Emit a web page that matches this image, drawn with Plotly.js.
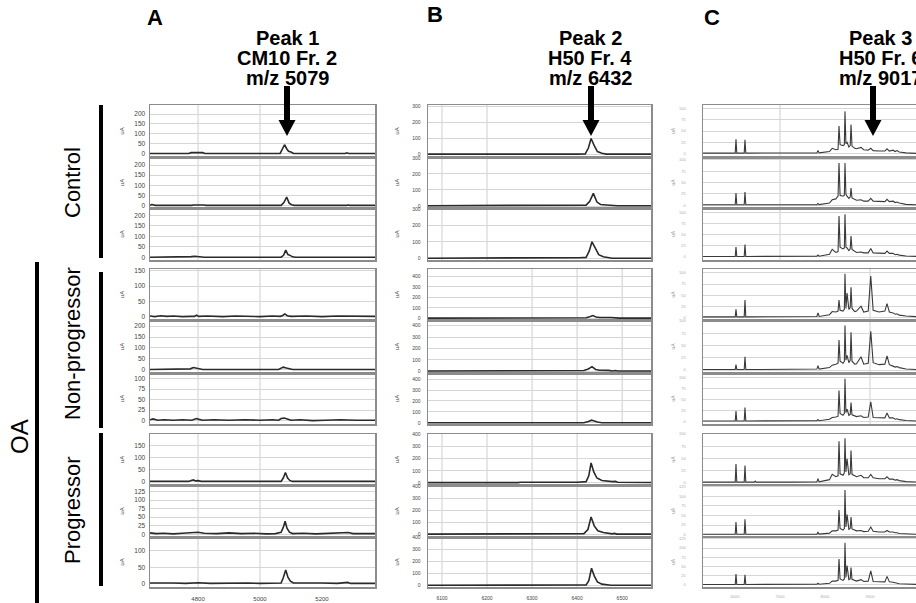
<!DOCTYPE html>
<html><head><meta charset="utf-8">
<script src="https://cdn.plot.ly/plotly-3.0.1.min.js"></script>
<style>html,body{margin:0;padding:0;background:#fff}#chart{width:916px;height:603px}</style>
</head><body><div id="chart"></div>
<script>
// ---------------- DATA ----------------
// Column A: CM10 Fr. 2 spectra (m/z vs uA)
const ctlA1X = [4645, 4770, 4778, 4790, 4805, 4815, 4822, 5065, 5072, 5079, 5086, 5092, 5100, 5108, 5275, 5280, 5286, 5371];
const ctlA1Y = [1, 1, 5, 7, 6, 5, 1, 1, 20, 45, 25, 12, 8, 1, 1, 4, 1, 1];
const ctlA2X = [4645, 4650, 4655, 4662, 4780, 4785, 4820, 4825, 5068, 5077, 5086, 5094, 5102, 5110, 5280, 5285, 5290, 5371];
const ctlA2Y = [1, 5, 4, 1, 1, 3, 3, 1, 1, 15, 42, 12, 4, 1, 1, 3, 1, 1];
const ctlA3X = [4645, 4770, 4778, 4790, 4800, 4812, 4820, 5068, 5076, 5083, 5090, 5097, 5105, 5115, 5270, 5278, 5286, 5371];
const ctlA3Y = [1, 1, 4, 6, 4, 5, 1, 1, 10, 35, 14, 10, 3, 1, 1, 4, 1, 1];
const npA1X = [4645, 4660, 4680, 4700, 4720, 4750, 4775, 4788, 4795, 4802, 4830, 4880, 4920, 4960, 5000, 5040, 5065, 5073, 5080, 5088, 5100, 5150, 5200, 5250, 5300, 5350, 5371];
const npA1Y = [2, 0, 3, 1, 2, 0, 1, 1, 5, 1, 2, 0, 2, 1, 0, 2, 1, 4, 9, 3, 1, 2, 0, 2, 1, 2, 1];
const npA2X = [4645, 4760, 4775, 4785, 4795, 4805, 4815, 5060, 5068, 5075, 5085, 5095, 5105, 5371];
const npA2Y = [1, 1, 4, 10, 8, 6, 1, 1, 6, 12, 8, 3, 1, 1];
const npA3X = [4645, 4655, 4670, 4690, 4720, 4750, 4780, 4788, 4795, 4803, 4815, 4850, 4900, 4950, 5000, 5040, 5060, 5068, 5078, 5088, 5100, 5130, 5170, 5210, 5260, 5310, 5350, 5371];
const npA3Y = [2, 4, 1, 2, 1, 2, 1, 4, 5, 3, 1, 2, 1, 2, 1, 2, 1, 5, 6, 4, 1, 2, 0, 1, 2, 1, 2, 1];
const prA1X = [4645, 4770, 4778, 4785, 4792, 4800, 4810, 5068, 5075, 5082, 5089, 5096, 5104, 5371];
const prA1Y = [1, 1, 5, 7, 3, 4, 1, 1, 15, 38, 15, 5, 1, 1];
const prA2X = [4645, 4665, 4690, 4720, 4750, 4780, 4800, 4820, 4860, 4900, 4940, 4980, 5020, 5050, 5068, 5075, 5081, 5087, 5095, 5105, 5140, 5180, 5220, 5260, 5285, 5300, 5340, 5371];
const prA2Y = [4, 2, 3, 1, 3, 5, 6, 3, 2, 4, 2, 3, 1, 2, 6, 20, 38, 18, 6, 2, 3, 1, 2, 3, 5, 2, 3, 2];
const prA3X = [4645, 4680, 4720, 4760, 4800, 4840, 4880, 4920, 4960, 5000, 5040, 5068, 5075, 5083, 5090, 5098, 5108, 5150, 5200, 5250, 5275, 5283, 5292, 5320, 5371];
const prA3Y = [2, 1, 2, 1, 3, 1, 2, 1, 2, 1, 2, 2, 18, 42, 20, 8, 2, 1, 2, 1, 2, 4, 1, 1, 1];

// Column B: H50 Fr. 4 spectra
const ctlB1X = [6069, 6080, 6090, 6100, 6400, 6418, 6425, 6431, 6438, 6445, 6455, 6465, 6564];
const ctlB1Y = [2, 3, 1, 2, 2, 3, 40, 100, 55, 18, 8, 2, 2];
const ctlB2X = [6069, 6395, 6405, 6420, 6428, 6436, 6444, 6452, 6465, 6480, 6490, 6564];
const ctlB2Y = [2, 2, 5, 6, 30, 79, 25, 10, 7, 6, 2, 2];
const ctlB3X = [6069, 6395, 6405, 6420, 6427, 6433, 6440, 6448, 6458, 6470, 6478, 6564];
const ctlB3Y = [1, 1, 4, 6, 45, 100, 60, 22, 10, 6, 1, 1];
const npB1X = [6069, 6410, 6420, 6428, 6435, 6442, 6450, 6475, 6480, 6490, 6495, 6564];
const npB1Y = [2, 2, 5, 15, 26, 12, 8, 8, 5, 6, 2, 2];
const npB2X = [6069, 6405, 6415, 6425, 6433, 6441, 6450, 6470, 6478, 6485, 6490, 6564];
const npB2Y = [2, 2, 6, 20, 40, 15, 8, 7, 2, 6, 2, 2];
const npB3X = [6069, 6415, 6425, 6432, 6438, 6445, 6455, 6564];
const npB3Y = [1, 1, 12, 25, 18, 8, 2, 1];
const prB1X = [6069, 6080, 6085, 6200, 6205, 6210, 6268, 6275, 6400, 6410, 6420, 6426, 6431, 6437, 6444, 6455, 6470, 6478, 6485, 6490, 6564];
const prB1Y = [2, 4, 2, 2, 4, 2, 2, 5, 5, 8, 10, 60, 165, 90, 40, 20, 12, 10, 12, 5, 3];
const prB2X = [6069, 6405, 6415, 6424, 6431, 6438, 6446, 6458, 6470, 6478, 6483, 6488, 6564];
const prB2Y = [2, 2, 6, 40, 144, 70, 30, 15, 8, 4, 8, 2, 2];
const prB3X = [6069, 6270, 6275, 6420, 6426, 6432, 6438, 6445, 6455, 6468, 6475, 6564];
const prB3Y = [2, 2, 5, 5, 40, 145, 80, 30, 12, 5, 2, 2];

// Column C: H50 Fr. 6 spectra (shared m/z sampling points)
const cX = [5290, 5700, 6005, 6022, 6040, 6205, 6222, 6240, 6430, 6450, 6470, 7240, 7260, 7280, 7820, 7844, 7870, 8100, 8160, 8240, 8290, 8311, 8335, 8400, 8430, 8444, 8465, 8490, 8530, 8560, 8578, 8600, 8660, 8700, 8800, 8860, 8960, 9017, 9070, 9200, 9330, 9378, 9430, 9511, 9560, 9600, 9650, 9800, 10030];
const ctlC1Y = [1.5,1.5,1.5,32,1.5, 1.5,31,1.5, 1.5,3,1.5, 1.5,2,1.5, 2,7,2, 5,12,9, 10,61,20, 18,20,93,22, 25,15, 18,64,17, 12,11,14,9, 8,12,7, 6,6,11,6, 8,5,7,4, 2,1];
const ctlC2Y = [1,1,1,27,1, 1,29,1, 1,1.5,1, 1,1.5,1, 1.5,4,1.5, 5,12,14, 20,93,22, 20,22,93,24, 20,15, 18,38,16, 12,11,12,9, 9,15,9, 8,8,13,8, 9,6,7,5, 2,1];
const ctlC3Y = [1,1,1,22,1, 1,28,1, 1,1.5,1, 1,1,1, 1.5,4,1.5, 6,17,10, 12,92,22, 18,20,96,22, 20,14, 18,47,17, 12,10,11,9, 9,19,9, 8,8,13,8, 8,5,6,4, 2,1];
const npC1Y = [1,1,1,18,1, 1,39,1, 1,2,1, 1,1.5,1, 2,10,2, 6,13,12, 14,39,16, 14,18,98,20, 55,18, 22,68,20, 13,14,25,12, 14,93,16, 12,14,31,12, 10,7,8,5, 3,1.5];
const npC2Y = [1,1,1,11,1, 1,27,1, 1,2,1, 1,1.5,1, 2,9,2, 5,10,12, 14,61,18, 14,18,91,20, 30,15, 20,77,18, 12,13,27,12, 14,79,15, 11,12,29,11, 8,6,7,5, 2,1];
const npC3Y = [1,1,1,24,1, 1,32,1, 1,1.5,1, 1,1,1, 1.5,4,1.5, 5,9,10, 12,71,18, 14,18,98,20, 28,14, 16,43,15, 12,11,13,9, 10,45,9, 8,8,19,8, 8,5,6,4, 2,1];
const prC1Y = [1,1,1,38,1, 1,35,1, 1,3,1, 1,1,1, 1.5,8,1.5, 6,17,12, 14,85,18, 15,20,91,22, 49,16, 18,66,17, 13,12,15,10, 10,17,10, 8,8,12,7, 7,5,6,4, 2,1];
const prC2Y = [1,1,1,33,1, 1,40,1, 1,2,1, 1,1,1, 1.5,6,1.5, 4,10,10, 12,64,16, 12,16,116,20, 52,14, 16,46,15, 11,10,11,8, 9,20,9, 7,7,11,7, 7,5,5,3, 2,1];
const prC3Y = [1,1,1,29,1, 1,27,1, 1,1.5,1, 1,1,1, 1.5,4,1.5, 4,10,10, 12,70,16, 12,16,114,20, 52,14, 16,47,15, 11,10,14,9, 10,38,9, 8,8,23,8, 7,5,5,3, 2,1];

const groups = ['Control', 'Non-progressor', 'Progressor'];
const colLetters = ['A', 'B', 'C'];
const peakTitles = [['Peak 1', 'CM10 Fr. 2', 'm/z 5079'], ['Peak 2', 'H50 Fr. 4', 'm/z 6432'], ['Peak 3', 'H50 Fr. 6', 'm/z 9017']];
const tickA = [4800, 5000, 5200];
const tickB = [6100, 6200, 6300, 6400, 6500];
const tickC = [6000, 7000, 8000, 9000, 10000];

// ---------------- LAYOUT ----------------
const W = 916, H = 603;
const colPx = [[150, 375], [428, 651], [703, 916]];
const rowPx = [[105,157],[157,208],[208,260],[269,320],[320,373],[373,424],[434,485],[485,537],[537,587]];
const xRanges = [[4645, 5371], [6069, 6564], [5289, 10022]];
const bottomTicks = [tickA, tickB, tickC];
const vGrid = [
  [[4800, 5000], [4800, 5000], [4800, 5000]],
  [[6100, 6200], [6300, 6400, 6500], [6100, 6200, 6300, 6400]],
  [[7000], [9000], []]
];
const panels = [
  [ctlA1X, ctlA1Y, [-17, 246], 50], [ctlA2X, ctlA2Y, [-12, 240], 50], [ctlA3X, ctlA3Y, [-12, 235], 50],
  [npA1X, npA1Y, [-11, 156], 50], [npA2X, npA2Y, [-15, 228], 50], [npA3X, npA3Y, [-8, 113], 25],
  [prA1X, prA1Y, [-14, 198], 50], [prA2X, prA2Y, [-8, 144], 25], [prA3X, prA3Y, [-10, 142], 50],
  [ctlB1X, ctlB1Y, [-16, 310], 100], [ctlB2X, ctlB2Y, [-12, 305], 100], [ctlB3X, ctlB3Y, [-10, 305], 100],
  [npB1X, npB1Y, [-16, 470], 100], [npB2X, npB2Y, [-16, 450], 100], [npB3X, npB3Y, [-10, 455], 100],
  [prB1X, prB1Y, [-18, 405], 100], [prB2X, prB2Y, [-22, 408], 100], [prB3X, prB3Y, [-12, 405], 100],
  [cX, ctlC1Y, [-7, 107], 25], [cX, ctlC2Y, [-6, 106], 25], [cX, ctlC3Y, [-7, 110], 25],
  [cX, npC1Y, [-6, 109], 25], [cX, npC2Y, [-6, 102], 25], [cX, npC3Y, [-6, 111], 25],
  [cX, prC1Y, [-5, 100], 25], [cX, prC2Y, [-6, 129], 25], [cX, prC3Y, [-6, 130], 25]
];

const FONT = 'Liberation Sans, Arial, sans-serif';
const data = [];
const layout = {
  width: W, height: H, autosize: false,
  margin: {l: 0, r: 0, t: 0, b: 0},
  paper_bgcolor: '#ffffff', plot_bgcolor: '#ffffff',
  showlegend: false, font: {family: FONT, color: '#000'},
  shapes: [], annotations: []
};

const px = (x) => x / W;
const py = (y) => 1 - y / H;

panels.forEach((p, k) => {
  const col = Math.floor(k / 9), row = k % 9, grp = Math.floor(row / 3);
  const i = k + 1, s = i === 1 ? '' : String(i);
  const isC = col === 2;
  data.push({
    type: 'scatter', mode: 'lines', x: p[0], y: p[1],
    xaxis: 'x' + s, yaxis: 'y' + s, hoverinfo: 'skip',
    line: {color: isC ? '#3a3a3a' : '#2a2a2a', width: isC ? 1.1 : 1.6}
  });
  const tickSizeX = col === 0 ? 6 : (col === 1 ? 5 : 4);
  layout['xaxis' + s] = {
    domain: [px(colPx[col][0]), px(colPx[col][1])], range: xRanges[col], anchor: 'y' + s,
    showline: true, mirror: true, linecolor: '#8c8c8c', linewidth: 1.5,
    showgrid: false, zeroline: false, ticks: '', fixedrange: true,
    tickmode: 'array', tickvals: bottomTicks[col], showticklabels: row === 8,
    ticklabelstandoff: 5,
    tickfont: {family: FONT, size: tickSizeX, color: isC ? '#aaaaaa' : '#444444'}
  };
  layout['yaxis' + s] = {
    domain: [py(rowPx[row][1]), py(rowPx[row][0])], range: p[2], dtick: p[3], tick0: 0, anchor: 'x' + s,
    showline: true, mirror: true, linecolor: '#8c8c8c', linewidth: 1.5,
    showgrid: true, gridcolor: '#d6d6d6', gridwidth: 1, zeroline: false, ticks: '', fixedrange: true,
    ticklabelstandoff: col === 0 ? 2 : (col === 1 ? 5 : 15),
    tickfont: {family: FONT, size: col === 0 ? 6.5 : (col === 1 ? 5 : 4), color: isC ? '#aaaaaa' : '#444444'},
    title: {text: 'uA', standoff: col === 0 ? 9 : (col === 1 ? 12 : 3),
            font: {family: FONT, size: col === 2 ? 5 : 6, color: isC ? '#999999' : '#444444'}}
  };
  vGrid[col][grp].forEach(v => {
    layout.shapes.push({type: 'line', xref: 'x' + s, yref: 'y' + s + ' domain', x0: v, x1: v, y0: 0, y1: 1,
      line: {color: '#d6d6d6', width: 1.2}, layer: 'below'});
  });
});

// group bars and labels
const groupBars = [[105, 258], [272, 428], [433, 586]];
const groupLabelY = [183, 344, 510];
groups.forEach((g, j) => {
  layout.shapes.push({type: 'rect', xref: 'paper', yref: 'paper', x0: px(99), x1: px(103),
    y0: py(groupBars[j][1]), y1: py(groupBars[j][0]), fillcolor: '#000', line: {width: 0}});
  layout.annotations.push({xref: 'paper', yref: 'paper', x: px(72), y: py(groupLabelY[j]),
    text: g, textangle: -90, showarrow: false, xanchor: 'center', yanchor: 'middle',
    font: {family: FONT, size: 22, color: '#000'}});
});
layout.shapes.push({type: 'rect', xref: 'paper', yref: 'paper', x0: px(35), x1: px(39),
  y0: 0, y1: py(262), fillcolor: '#000', line: {width: 0}});
layout.annotations.push({xref: 'paper', yref: 'paper', x: px(19), y: py(437), text: 'OA',
  textangle: -90, showarrow: false, xanchor: 'center', yanchor: 'middle',
  font: {family: FONT, size: 24, color: '#000'}});

// column headers and arrows
const letterPos = [[155, 18], [435, 15], [712, 18]];
const headerCx = [287, 590, 880];
const arrowCx = [287, 591, 873];
colLetters.forEach((L, c) => {
  layout.annotations.push({xref: 'paper', yref: 'paper', x: px(letterPos[c][0]), y: py(letterPos[c][1]),
    text: '<b>' + L + '</b>', showarrow: false, xanchor: 'center', yanchor: 'middle',
    font: {family: FONT, size: 22, color: '#000'}});
  peakTitles[c].forEach((t, m) => {
    layout.annotations.push({xref: 'paper', yref: 'paper', x: px(headerCx[c]), y: py(38 + 20 * m),
      text: '<b>' + t + '</b>', showarrow: false, xanchor: 'center', yanchor: 'middle',
      font: {family: FONT, size: 20, color: '#000'}});
  });
  const a = arrowCx[c];
  const pts = [[a - 3, 86], [a + 3, 86], [a + 3, 120], [a + 8.5, 120], [a, 136], [a - 8.5, 120], [a - 3, 120]];
  const path = 'M ' + pts.map(q => px(q[0]) + ',' + py(q[1])).join(' L ') + ' Z';
  layout.shapes.push({type: 'path', xref: 'paper', yref: 'paper', path: path,
    fillcolor: '#000', line: {width: 0}});
});

Plotly.newPlot('chart', data, layout, {staticPlot: true, displayModeBar: false});
</script></body></html>
